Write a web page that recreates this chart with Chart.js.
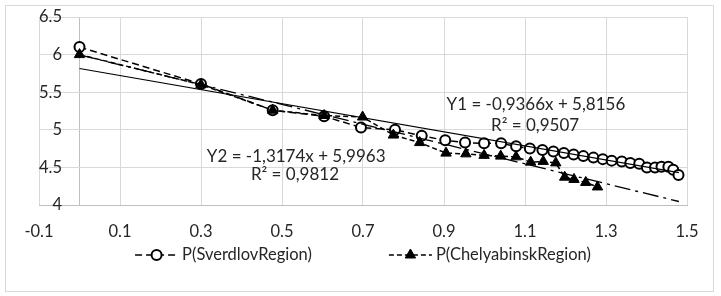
<!DOCTYPE html>
<html>
<head>
<meta charset="utf-8">
<script src="https://cdn.jsdelivr.net/npm/chart.js@4/dist/chart.umd.min.js"></script>
<style>
  html, body { margin: 0; padding: 0; background: #fff; }
  #wrap { width: 721px; height: 296px; }
</style>
</head>
<body>
<div id="wrap"><canvas id="chart" width="721" height="296"></canvas></div>
<script>
// values
const sverdlovX = [0, 0.30, 0.477, 0.604, 0.695, 0.779, 0.845, 0.903, 0.952, 0.999, 1.041, 1.078, 1.112, 1.143, 1.170, 1.196, 1.220, 1.244, 1.269, 1.292, 1.314, 1.339, 1.360, 1.382, 1.401, 1.421, 1.437, 1.454, 1.466, 1.479];
const sverdlovY = [6.10, 5.61, 5.26, 5.18, 5.03, 5.00, 4.92, 4.86, 4.83, 4.82, 4.82, 4.78, 4.75, 4.73, 4.71, 4.69, 4.67, 4.65, 4.63, 4.61, 4.59, 4.58, 4.56, 4.55, 4.50, 4.50, 4.51, 4.51, 4.47, 4.40];

const chelyabX = [0, 0.30, 0.477, 0.604, 0.699, 0.775, 0.840, 0.905, 0.954, 0.999, 1.040, 1.078, 1.114, 1.145, 1.176, 1.198, 1.221, 1.250, 1.279];
const chelyabY = [6.00, 5.60, 5.26, 5.19, 5.17, 4.93, 4.83, 4.69, 4.68, 4.66, 4.65, 4.64, 4.57, 4.58, 4.56, 4.37, 4.34, 4.30, 4.24];

// trendline end points (from the printed equations)
const trend1X = [0, 1.48];
const trend1Y = [5.8156, 4.4294];
const trend2X = [0, 1.48];
const trend2Y = [5.9963, 4.0465];

const seriesNames = ['P(SverdlovRegion)', 'P(ChelyabinskRegion)'];
const xTicks = [-0.1, 0, 0.1, 0.3, 0.5, 0.7, 0.9, 1.1, 1.3, 1.5];
const yTicks = [4, 4.5, 5, 5.5, 6, 6.5];

const equations = [
  { text: 'Y1 = -0,9366x + 5,8156', x: 1.127, y: 5.34 },
  { text: 'R² = 0,9507', x: 1.125, y: 5.06 },
  { text: 'Y2 = -1,3174x + 5,9963', x: 0.535, y: 4.65 },
  { text: 'R² = 0,9812', x: 0.532, y: 4.40 }
];

function toPoints(xs, ys) {
  return xs.map((x, i) => ({ x: x, y: ys[i] }));
}

const FONT = 'Lato, "Open Sans", sans-serif';
const TEXT_COLOR = '#262626';

const framePlugin = {
  id: 'frame',
  beforeDraw(chart) {
    const ctx = chart.ctx;
    ctx.save();
    ctx.fillStyle = '#ffffff';
    ctx.fillRect(0, 0, chart.width, chart.height);
    ctx.strokeStyle = '#d9d9d9';
    ctx.lineWidth = 1;
    ctx.strokeRect(5.5, 5.5, chart.width - 13, chart.height - 10);
    ctx.restore();
  }
};

const equationPlugin = {
  id: 'equations',
  afterDatasetsDraw(chart) {
    const ctx = chart.ctx;
    const xs = chart.scales.x, ys = chart.scales.y;
    ctx.save();
    ctx.font = '17px ' + FONT;
    ctx.fillStyle = TEXT_COLOR;
    ctx.textAlign = 'center';
    ctx.textBaseline = 'middle';
    equations.forEach(eq => {
      ctx.fillText(eq.text, xs.getPixelForValue(eq.x), ys.getPixelForValue(eq.y));
    });
    ctx.restore();
  }
};

// legend with a line sample + marker, like the spreadsheet one
const legendPlugin = {
  id: 'lineLegend',
  afterDraw(chart) {
    const ctx = chart.ctx;
    const sampleW = 43, gapText = 4, gapItem = 77;
    const cy = 255;
    ctx.save();
    ctx.font = '16.5px ' + FONT;
    const widths = seriesNames.map(n => ctx.measureText(n).width);
    const total = 2 * (sampleW + gapText) + widths[0] + widths[1] + gapItem;
    const center = (chart.chartArea.left + chart.chartArea.right) / 2;
    let x = center - total / 2;
    for (let i = 0; i < seriesNames.length; i++) {
      const ds = chart.data.datasets[i];
      ctx.strokeStyle = ds.borderColor;
      ctx.lineWidth = ds.borderWidth;
      ctx.setLineDash(ds.borderDash || []);
      ctx.beginPath();
      ctx.moveTo(x, cy);
      ctx.lineTo(x + sampleW, cy);
      ctx.stroke();
      ctx.setLineDash([]);
      ctx.fillStyle = ds.pointBackgroundColor;
      ctx.strokeStyle = ds.pointBorderColor;
      ctx.lineWidth = ds.pointBorderWidth;
      Chart.helpers.drawPoint(ctx, {
        pointStyle: ds.pointStyle,
        radius: ds.pointRadius,
        rotation: 0,
        borderWidth: ds.pointBorderWidth
      }, x + sampleW / 2, cy);
      ctx.fillStyle = TEXT_COLOR;
      ctx.textAlign = 'left';
      ctx.textBaseline = 'middle';
      ctx.fillText(seriesNames[i], x + sampleW + gapText, cy);
      x += sampleW + gapText + widths[i] + gapItem;
    }
    ctx.restore();
  }
};

const ctx = document.getElementById('chart').getContext('2d');
new Chart(ctx, {
  type: 'scatter',
  data: {
    datasets: [
      {
        label: seriesNames[0],
        data: toPoints(sverdlovX, sverdlovY),
        showLine: true,
        borderColor: '#000000',
        borderWidth: 1.5,
        borderDash: [7, 4],
        pointStyle: 'circle',
        pointRadius: 5,
        pointBorderWidth: 2,
        pointBorderColor: '#000000',
        pointBackgroundColor: '#ffffff',
        order: 3
      },
      {
        label: seriesNames[1],
        data: toPoints(chelyabX, chelyabY),
        showLine: true,
        borderColor: '#000000',
        borderWidth: 1.5,
        borderDash: [5, 3],
        pointStyle: 'triangle',
        pointRadius: 6,
        pointBorderWidth: 1,
        pointBorderColor: '#000000',
        pointBackgroundColor: '#000000',
        order: 2
      },
      {
        label: 'Y1',
        data: toPoints(trend1X, trend1Y),
        showLine: true,
        borderColor: '#000000',
        borderWidth: 1.2,
        pointRadius: 0,
        order: 1
      },
      {
        label: 'Y2',
        data: toPoints(trend2X, trend2Y),
        showLine: true,
        borderColor: '#000000',
        borderWidth: 1.3,
        borderDash: [16, 5, 3, 5],
        pointRadius: 0,
        order: 1
      }
    ]
  },
  options: {
    responsive: false,
    animation: false,
    layout: { padding: { left: 5, top: 17, right: 34, bottom: 51 } },
    plugins: {
      legend: { display: false },
      tooltip: { enabled: false }
    },
    scales: {
      x: {
        type: 'linear',
        min: -0.1,
        max: 1.5,
        afterBuildTicks: scale => { scale.ticks = xTicks.map(v => ({ value: v })); },
        afterFit: scale => { scale.height = 40; },
        border: { display: true, color: '#bfbfbf', width: 1 },
        grid: {
          drawTicks: false,
          color: c => (c.tick && c.tick.value === 0) ? '#bfbfbf' : '#d9d9d9',
          lineWidth: 1
        },
        ticks: {
          autoSkip: false,
          maxRotation: 0,
          padding: 17,
          color: TEXT_COLOR,
          font: { family: FONT, size: 16.5 },
          callback: v => v === 0 ? '' : v.toFixed(1)
        }
      },
      y: {
        type: 'linear',
        min: 4,
        max: 6.5,
        afterBuildTicks: scale => { scale.ticks = yTicks.map(v => ({ value: v })); },
        afterFit: scale => { scale.width = 34; },
        border: { display: false },
        grid: {
          drawTicks: false,
          color: c => (c.tick && c.tick.value === 4) ? '#bfbfbf' : '#d9d9d9',
          lineWidth: 1
        },
        ticks: {
          mirror: true,
          crossAlign: 'far',
          padding: 0,
          color: TEXT_COLOR,
          font: { family: FONT, size: 16.5 },
          callback: v => String(v)
        }
      }
    }
  },
  plugins: [framePlugin, equationPlugin, legendPlugin]
});
</script>
</body>
</html>
